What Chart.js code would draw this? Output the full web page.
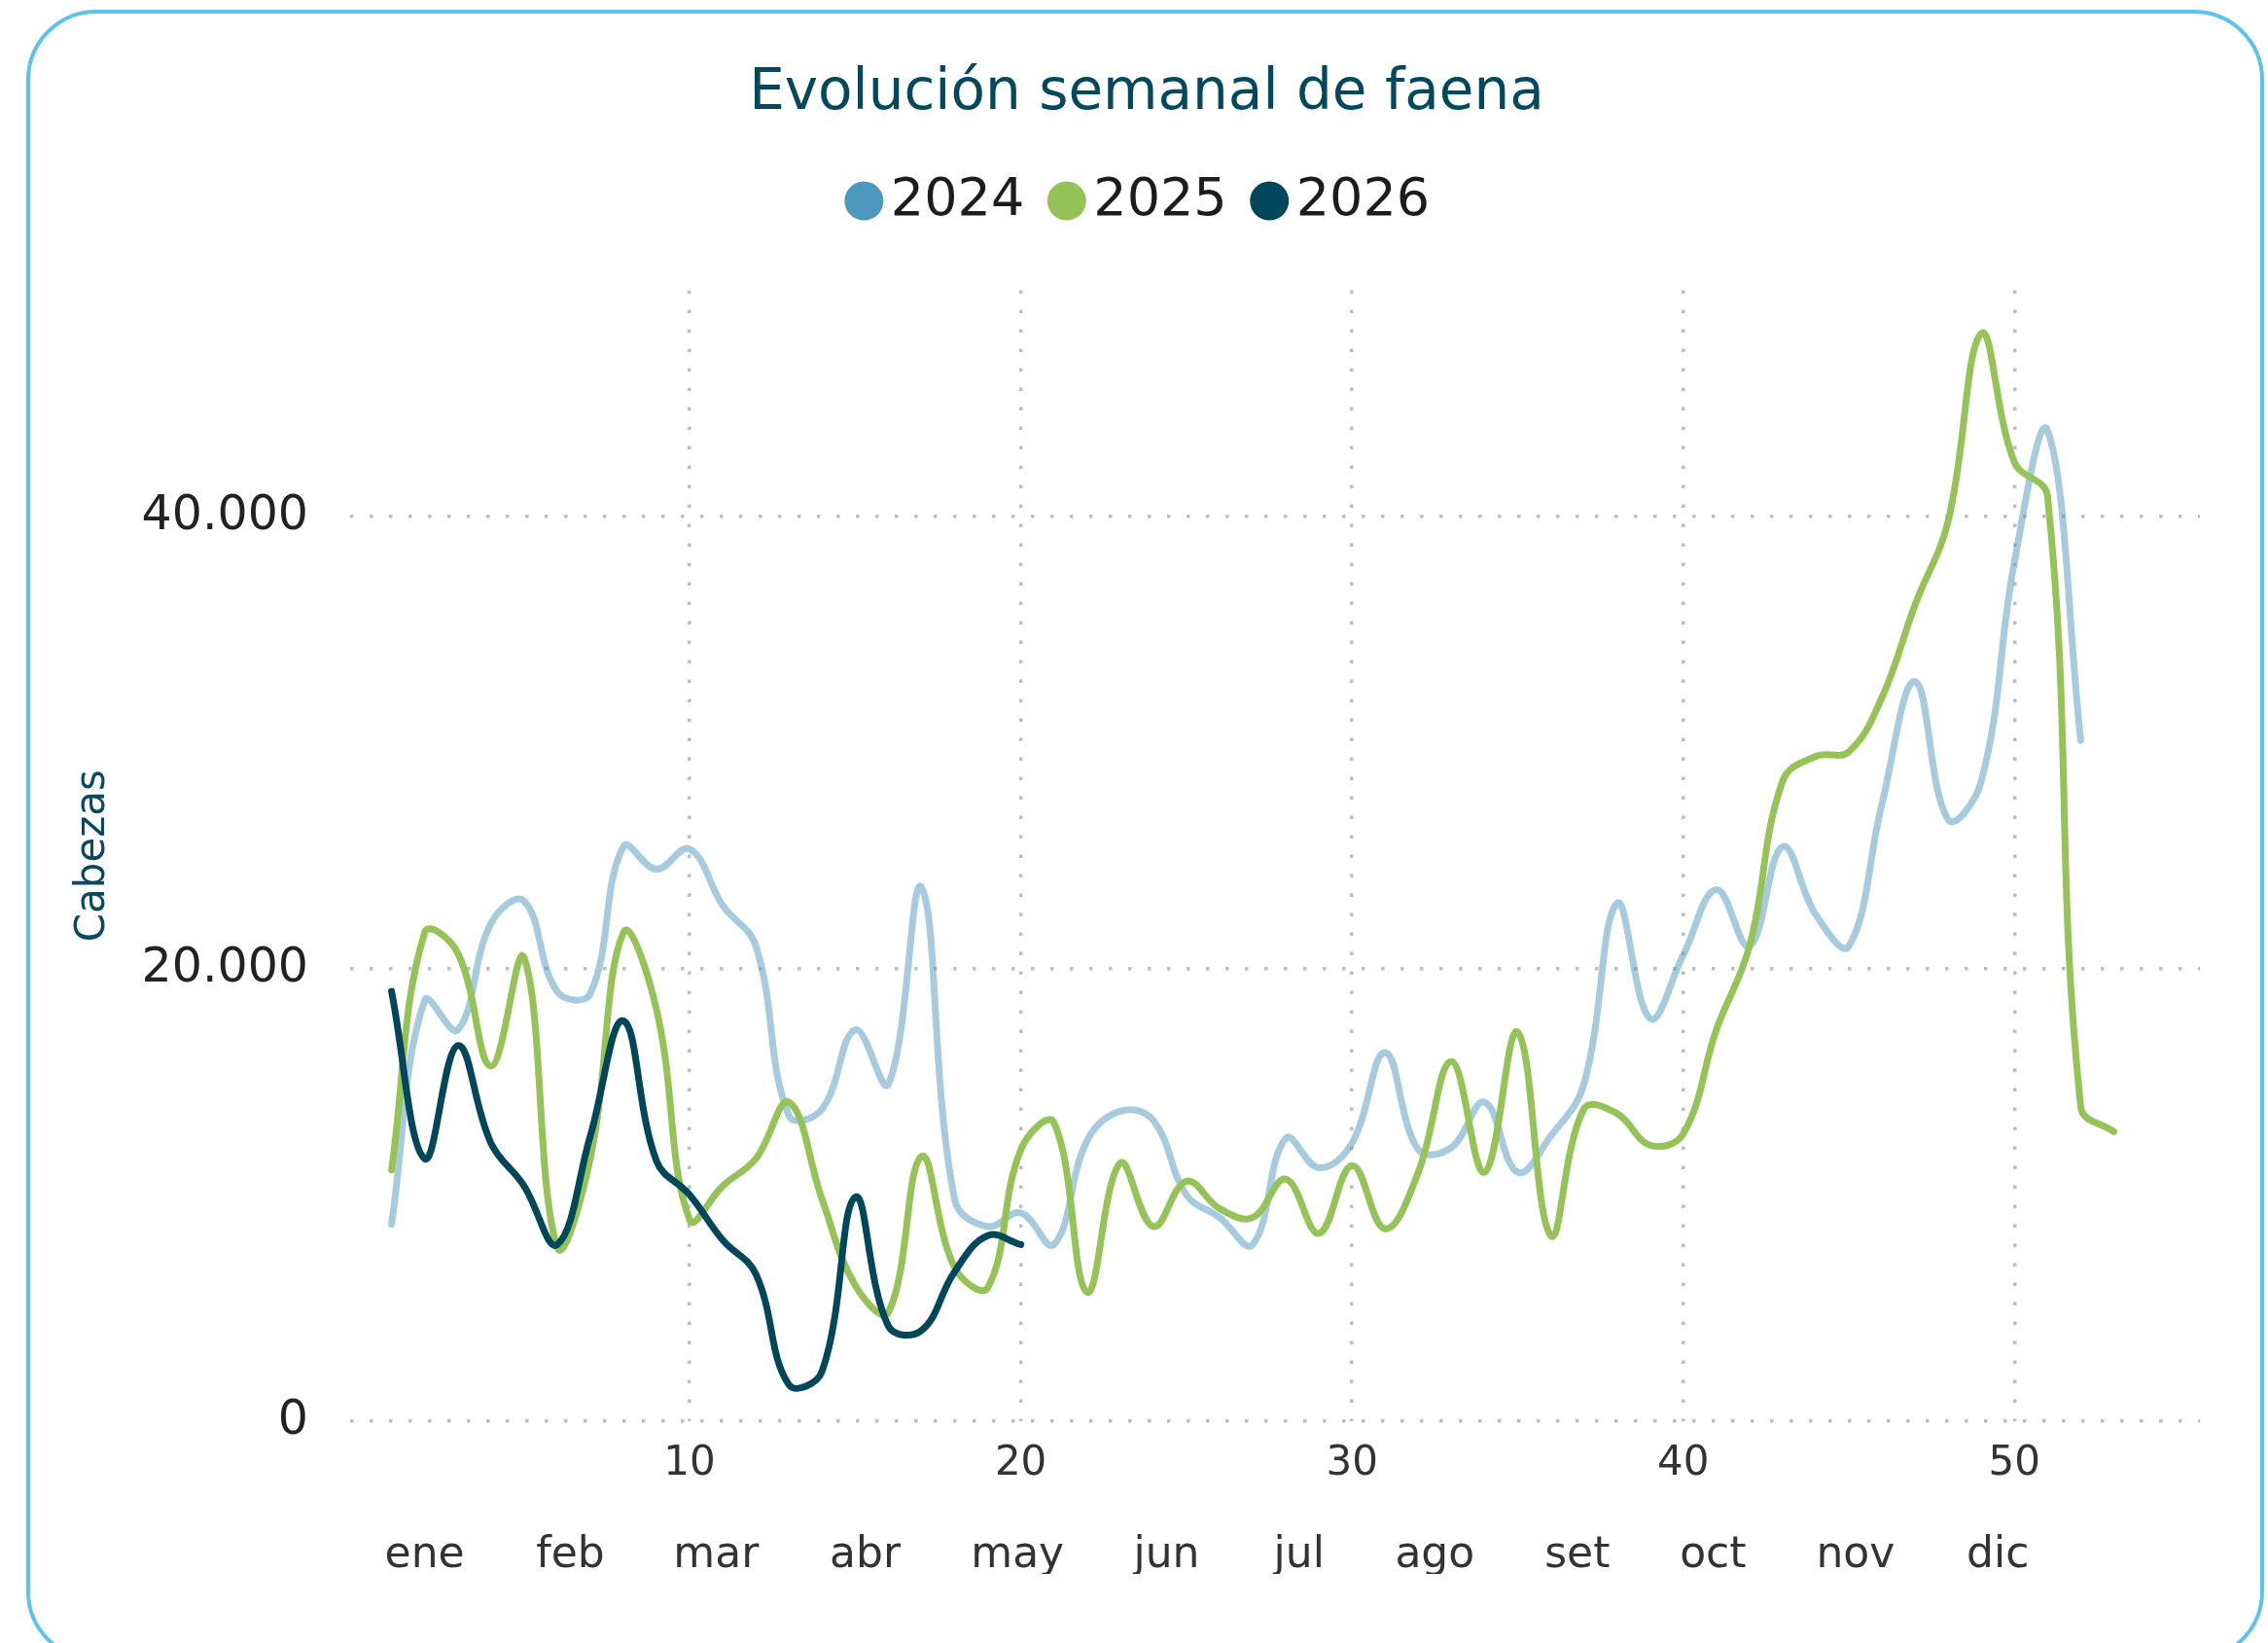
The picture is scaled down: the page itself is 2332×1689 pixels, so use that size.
<!DOCTYPE html>
<html lang="es">
<head>
<meta charset="utf-8">
<title>Evolución semanal de faena</title>
<script src="https://cdn.jsdelivr.net/npm/chart.js@4.4.1/dist/chart.umd.min.js"></script>
<style>
  html, body { margin: 0; padding: 0; background: #fff; overflow: hidden; }
  body { width: 2332px; height: 1689px; position: relative; }
  .tarjeta {
    position: absolute; left: 27px; top: 10px;
    width: 2301px; height: 1698px;
    box-sizing: border-box;
    border: 4px solid #5ec3e9;
    border-radius: 72px;
    background: #fff;
  }
  #faena { position: absolute; left: 32px; top: 14px; }
</style>
</head>
<body>
<div class="tarjeta"></div>
<canvas id="faena" width="2292" height="1670"></canvas>
<script>
// cabezas faenadas por semana (semana 1 = primer valor)
var faena2024 = [8700, 18600, 17300, 22000, 23000, 19000, 18900, 25400, 24400, 25300,
  22800, 21000, 13500, 13800, 17300, 14900, 23600, 9800, 8600, 9200,
  7800, 12400, 13700, 13300, 10000, 9000, 7800, 12500, 11200, 12300,
  16300, 12000, 12100, 14100, 11000, 12600, 14900, 22900, 17800, 20600,
  23500, 21000, 25400, 22400, 21000, 27300, 32700, 26600, 28300, 38000,
  43800, 30100];
var faena2025 = [11100, 21600, 20700, 15700, 20500, 7700, 11600, 21600, 18200, 8900,
  10400, 11600, 14100, 9800, 6000, 4800, 11700, 6800, 5900, 12000,
  13200, 5700, 11400, 8600, 10600, 9400, 9000, 10700, 8300, 11300,
  8500, 11000, 15900, 11000, 17200, 8200, 13800, 13600, 12200, 12700,
  17300, 21000, 28300, 29400, 29600, 32000, 36100, 39800, 48100, 42400,
  40900, 13900, 12800];
var faena2026 = [19000, 11600, 16600, 12300, 10400, 7800, 12600, 17700, 11500, 10000,
  8000, 6500, 1600, 2200, 9900, 4200, 4000, 6600, 8200, 7800];

var anios = ['2024', '2025', '2026'];
var ticksSemana = [10, 20, 30, 40, 50];
var ticksCabezas = [0, 20000, 40000];
var meses = ['ene', 'feb', 'mar', 'abr', 'may', 'jun', 'jul', 'ago', 'set', 'oct', 'nov', 'dic'];
var posMeses = [2.0, 6.4, 10.8, 15.3, 19.9, 24.4, 28.4, 32.5, 36.8, 40.9, 45.2, 49.5];

var semanaMin = -0.25;
var semanaMax = 55.6;
var cabezasMax = 50000;

Chart.defaults.font.family = "'DejaVu Sans', Verdana, sans-serif";
Chart.defaults.color = '#333';

function puntos(valores) {
  return valores.map(function (v, i) { return { x: i + 1, y: v }; });
}

function miles(v) {
  return String(v).replace(/\B(?=(\d{3})+(?!\d))/g, '.');
}

// deja aire entre la leyenda y el area del grafico
var huecoLeyenda = {
  id: 'huecoLeyenda',
  beforeInit: function (chart) {
    var fitOriginal = chart.legend.fit;
    chart.legend.fit = function () {
      fitOriginal.call(this);
      this.height += 55;
    };
  }
};

var grilla = { color: '#bdbdbd', lineWidth: 3.5, drawTicks: false };
var bordeGrilla = { display: false, dash: [3.5, 16.5] };

new Chart(document.getElementById('faena'), {
  type: 'line',
  data: {
    datasets: [
      { label: anios[0], data: puntos(faena2024), borderColor: 'rgba(77,152,189,0.5)',
        backgroundColor: '#4d98bd', order: 3, xAxisID: 'x', yAxisID: 'y' },
      { label: anios[1], data: puntos(faena2025), borderColor: '#95c357',
        backgroundColor: '#95c357', order: 2, xAxisID: 'x', yAxisID: 'y' },
      { label: anios[2], data: puntos(faena2026), borderColor: '#00475b',
        backgroundColor: '#00475b', order: 1, xAxisID: 'x', yAxisID: 'y' }
    ]
  },
  options: {
    responsive: false,
    animation: false,
    events: [],
    layout: { padding: { left: 64, right: 62, top: 0, bottom: 66 } },
    elements: {
      line: { borderWidth: 7, tension: 0.4, borderCapStyle: 'round', borderJoinStyle: 'round', fill: false },
      point: { radius: 0, hoverRadius: 0 }
    },
    plugins: {
      title: {
        display: true,
        text: 'Evolución semanal de faena',
        color: '#03485c',
        font: { size: 58, weight: 'normal' },
        padding: { top: 48, bottom: 5 }
      },
      legend: {
        labels: {
          usePointStyle: true,
          pointStyle: 'circle',
          boxWidth: 1,
          boxHeight: 28.3,
          padding: 43,
          color: '#1c1c1c',
          font: { size: 54 },
          sort: function (a, b) { return a.datasetIndex - b.datasetIndex; },
          generateLabels: function (chart) {
            var items = Chart.defaults.plugins.legend.labels.generateLabels(chart);
            items.forEach(function (it) {
              var ds = chart.data.datasets[it.datasetIndex];
              it.fillStyle = ds.backgroundColor;
              it.strokeStyle = ds.backgroundColor;
              it.lineWidth = 0;
            });
            return items;
          }
        }
      },
      tooltip: { enabled: false }
    },
    scales: {
      x: {
        type: 'linear',
        min: semanaMin,
        max: semanaMax,
        grid: grilla,
        border: bordeGrilla,
        ticks: { padding: 19, color: '#333', font: { size: 42 }, maxRotation: 0, autoSkip: false },
        afterBuildTicks: function (s) { s.ticks = ticksSemana.map(function (v) { return { value: v }; }); },
        afterFit: function (s) { s.height = 69.4; }
      },
      meses: {
        type: 'linear',
        axis: 'x',
        position: 'bottom',
        weight: 1,
        min: semanaMin,
        max: semanaMax,
        grid: { display: false },
        border: { display: false },
        ticks: {
          padding: 35, color: '#333', font: { size: 44 }, maxRotation: 0, autoSkip: false,
          callback: function (v, i) { return meses[i]; }
        },
        afterBuildTicks: function (s) { s.ticks = posMeses.map(function (v) { return { value: v }; }); },
        afterFit: function (s) { s.height = 87.8; }
      },
      y: {
        min: 0,
        max: cabezasMax,
        grid: grilla,
        border: bordeGrilla,
        ticks: { padding: 43, color: '#222', font: { size: 49 }, callback: miles },
        afterBuildTicks: function (s) { s.ticks = ticksCabezas.map(function (v) { return { value: v }; }); },
        afterFit: function (s) { s.width = 264; },
        title: {
          display: true,
          text: 'Cabezas',
          color: '#0b4a5d',
          font: { size: 42 },
          padding: { top: -25, bottom: 0 }
        }
      }
    }
  },
  plugins: [huecoLeyenda]
});
</script>
</body>
</html>
